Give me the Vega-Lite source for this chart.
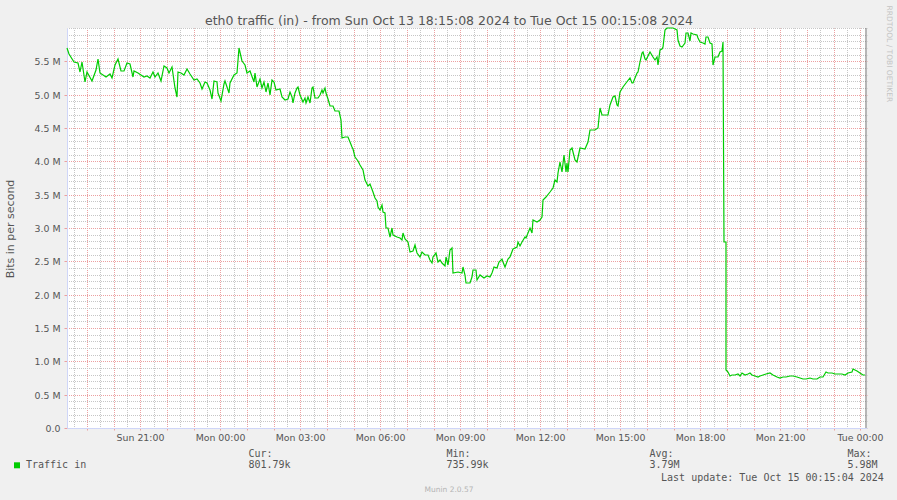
{
 "$schema": "https://vega.github.io/schema/vega-lite/v6.json",
 "width": 800,
 "height": 400,
 "autosize": "none",
 "padding": {"left": 67, "top": 28, "right": 30, "bottom": 72},
 "background": "#f0f0f0",
 "config": {
  "view": {"fill": "#ffffff", "stroke": null},
  "axis": {"labelFont": "DejaVu Sans", "titleFont": "DejaVu Sans", "titleFontWeight": "normal", "labelColor": "#555555", "titleColor": "#555555"}
 },
 "datasets": {
  "now": [{"t": "2024-10-15T00:12:00Z"}],
  "traffic": [
   {"t":"2024-10-13T18:15:00Z","v":5695000},{"t":"2024-10-13T18:20:00Z","v":5610000},{"t":"2024-10-13T18:30:00Z","v":5495000},{"t":"2024-10-13T18:41:00Z","v":5480000},{"t":"2024-10-13T18:45:00Z","v":5345000},{"t":"2024-10-13T18:50:00Z","v":5495000},{"t":"2024-10-13T18:55:00Z","v":5195000},{"t":"2024-10-13T19:01:00Z","v":5335000},{"t":"2024-10-13T19:11:00Z","v":5205000},{"t":"2024-10-13T19:20:00Z","v":5370000},{"t":"2024-10-13T19:26:00Z","v":5530000},{"t":"2024-10-13T19:30:00Z","v":5320000},{"t":"2024-10-13T19:43:00Z","v":5260000},{"t":"2024-10-13T19:51:00Z","v":5305000},{"t":"2024-10-13T19:56:00Z","v":5245000},{"t":"2024-10-13T20:04:00Z","v":5445000},{"t":"2024-10-13T20:11:00Z","v":5530000},{"t":"2024-10-13T20:17:00Z","v":5360000},{"t":"2024-10-13T20:23:00Z","v":5350000},{"t":"2024-10-13T20:30:00Z","v":5480000},{"t":"2024-10-13T20:37:00Z","v":5460000},{"t":"2024-10-13T20:43:00Z","v":5270000},{"t":"2024-10-13T20:47:00Z","v":5360000},{"t":"2024-10-13T20:56:00Z","v":5320000},{"t":"2024-10-13T21:08:00Z","v":5260000},{"t":"2024-10-13T21:15:00Z","v":5285000},{"t":"2024-10-13T21:22:00Z","v":5245000},{"t":"2024-10-13T21:28:00Z","v":5335000},{"t":"2024-10-13T21:34:00Z","v":5270000},{"t":"2024-10-13T21:41:00Z","v":5320000},{"t":"2024-10-13T21:47:00Z","v":5210000},{"t":"2024-10-13T21:53:00Z","v":5430000},{"t":"2024-10-13T22:00:00Z","v":5395000},{"t":"2024-10-13T22:05:00Z","v":5320000},{"t":"2024-10-13T22:11:00Z","v":5420000},{"t":"2024-10-13T22:19:00Z","v":5100000},{"t":"2024-10-13T22:23:00Z","v":4970000},{"t":"2024-10-13T22:26:00Z","v":5335000},{"t":"2024-10-13T22:32:00Z","v":5320000},{"t":"2024-10-13T22:38:00Z","v":5295000},{"t":"2024-10-13T22:45:00Z","v":5380000},{"t":"2024-10-13T22:52:00Z","v":5305000},{"t":"2024-10-13T23:00:00Z","v":5220000},{"t":"2024-10-13T23:08:00Z","v":5230000},{"t":"2024-10-13T23:15:00Z","v":5170000},{"t":"2024-10-13T23:19:00Z","v":5080000},{"t":"2024-10-13T23:25:00Z","v":5195000},{"t":"2024-10-13T23:30:00Z","v":5170000},{"t":"2024-10-13T23:37:00Z","v":5070000},{"t":"2024-10-13T23:41:00Z","v":4930000},{"t":"2024-10-13T23:46:00Z","v":5200000},{"t":"2024-10-13T23:53:00Z","v":5195000},{"t":"2024-10-13T23:56:00Z","v":5020000},
   {"t":"2024-10-14T00:02:00Z","v":4910000},{"t":"2024-10-14T00:08:00Z","v":5160000},{"t":"2024-10-14T00:11:00Z","v":5210000},{"t":"2024-10-14T00:19:00Z","v":5030000},{"t":"2024-10-14T00:22:00Z","v":5180000},{"t":"2024-10-14T00:30:00Z","v":5295000},{"t":"2024-10-14T00:38:00Z","v":5320000},{"t":"2024-10-14T00:43:00Z","v":5695000},{"t":"2024-10-14T00:49:00Z","v":5510000},{"t":"2024-10-14T00:55:00Z","v":5445000},{"t":"2024-10-14T01:00:00Z","v":5320000},{"t":"2024-10-14T01:07:00Z","v":5350000},{"t":"2024-10-14T01:15:00Z","v":5195000},{"t":"2024-10-14T01:19:00Z","v":5320000},{"t":"2024-10-14T01:23:00Z","v":5120000},{"t":"2024-10-14T01:30:00Z","v":5235000},{"t":"2024-10-14T01:34:00Z","v":5095000},{"t":"2024-10-14T01:38:00Z","v":5195000},{"t":"2024-10-14T01:43:00Z","v":5045000},{"t":"2024-10-14T01:47:00Z","v":5170000},{"t":"2024-10-14T01:52:00Z","v":4995000},
   {"t":"2024-10-14T01:57:00Z","v":5220000},{"t":"2024-10-14T02:01:00Z","v":5195000},{"t":"2024-10-14T02:06:00Z","v":5070000},{"t":"2024-10-14T02:14:00Z","v":5080000},{"t":"2024-10-14T02:18:00Z","v":4970000},{"t":"2024-10-14T02:26:00Z","v":4920000},{"t":"2024-10-14T02:33:00Z","v":4930000},{"t":"2024-10-14T02:37:00Z","v":5045000},{"t":"2024-10-14T02:41:00Z","v":4970000},{"t":"2024-10-14T02:44:00Z","v":4870000},{"t":"2024-10-14T02:48:00Z","v":5020000},{"t":"2024-10-14T02:52:00Z","v":5095000},{"t":"2024-10-14T02:55:00Z","v":5120000},{"t":"2024-10-14T02:59:00Z","v":4995000},{"t":"2024-10-14T03:07:00Z","v":4895000},{"t":"2024-10-14T03:11:00Z","v":4945000},{"t":"2024-10-14T03:14:00Z","v":4880000},{"t":"2024-10-14T03:18:00Z","v":4970000},{"t":"2024-10-14T03:22:00Z","v":4870000},{"t":"2024-10-14T03:26:00Z","v":5095000},{"t":"2024-10-14T03:29:00Z","v":5110000},{"t":"2024-10-14T03:33:00Z","v":4945000},{"t":"2024-10-14T03:41:00Z","v":4945000},{"t":"2024-10-14T03:44:00Z","v":4995000},{"t":"2024-10-14T03:48:00Z","v":5070000},{"t":"2024-10-14T03:52:00Z","v":5020000},{"t":"2024-10-14T03:56:00Z","v":5095000},{"t":"2024-10-14T03:59:00Z","v":5020000},{"t":"2024-10-14T04:03:00Z","v":4930000},{"t":"2024-10-14T04:07:00Z","v":4830000},{"t":"2024-10-14T04:14:00Z","v":4830000},{"t":"2024-10-14T04:18:00Z","v":4755000},{"t":"2024-10-14T04:27:00Z","v":4755000},{"t":"2024-10-14T04:32:00Z","v":4620000},{"t":"2024-10-14T04:35:00Z","v":4345000},{"t":"2024-10-14T04:41:00Z","v":4370000},{"t":"2024-10-14T04:48:00Z","v":4370000},{"t":"2024-10-14T04:52:00Z","v":4295000},{"t":"2024-10-14T04:56:00Z","v":4220000},{"t":"2024-10-14T04:59:00Z","v":4180000},{"t":"2024-10-14T05:03:00Z","v":4070000},{"t":"2024-10-14T05:11:00Z","v":4010000},{"t":"2024-10-14T05:14:00Z","v":3945000},{"t":"2024-10-14T05:22:00Z","v":3870000},{"t":"2024-10-14T05:26:00Z","v":3720000},{"t":"2024-10-14T05:33:00Z","v":3630000},{"t":"2024-10-14T05:37:00Z","v":3660000},{"t":"2024-10-14T05:44:00Z","v":3545000},{"t":"2024-10-14T05:48:00Z","v":3445000},{"t":"2024-10-14T05:52:00Z","v":3410000},{"t":"2024-10-14T05:55:00Z","v":3320000},{"t":"2024-10-14T05:59:00Z","v":3270000},{"t":"2024-10-14T06:03:00Z","v":3345000},{"t":"2024-10-14T06:07:00Z","v":3245000},{"t":"2024-10-14T06:11:00Z","v":3220000},{"t":"2024-10-14T06:14:00Z","v":2995000},{"t":"2024-10-14T06:18:00Z","v":2995000},{"t":"2024-10-14T06:22:00Z","v":2870000},{"t":"2024-10-14T06:26:00Z","v":2995000},{"t":"2024-10-14T06:29:00Z","v":2895000},{"t":"2024-10-14T06:37:00Z","v":2870000},{"t":"2024-10-14T06:44:00Z","v":2845000},{"t":"2024-10-14T06:48:00Z","v":2820000},{"t":"2024-10-14T06:52:00Z","v":2920000},{"t":"2024-10-14T06:56:00Z","v":2830000},{"t":"2024-10-14T07:03:00Z","v":2795000},{"t":"2024-10-14T07:07:00Z","v":2645000},{"t":"2024-10-14T07:14:00Z","v":2660000},{"t":"2024-10-14T07:18:00Z","v":2745000},{"t":"2024-10-14T07:22:00Z","v":2620000},{"t":"2024-10-14T07:29:00Z","v":2570000},{"t":"2024-10-14T07:33:00Z","v":2645000},{"t":"2024-10-14T07:41:00Z","v":2595000},{"t":"2024-10-14T07:48:00Z","v":2595000},{"t":"2024-10-14T07:52:00Z","v":2520000},{"t":"2024-10-14T07:56:00Z","v":2470000},{"t":"2024-10-14T07:59:00Z","v":2570000},{"t":"2024-10-14T08:05:00Z","v":2630000},{"t":"2024-10-14T08:11:00Z","v":2495000},{"t":"2024-10-14T08:14:00Z","v":2520000},{"t":"2024-10-14T08:18:00Z","v":2470000},{"t":"2024-10-14T08:26:00Z","v":2430000},{"t":"2024-10-14T08:29:00Z","v":2570000},{"t":"2024-10-14T08:33:00Z","v":2445000},{"t":"2024-10-14T08:37:00Z","v":2670000},{"t":"2024-10-14T08:41:00Z","v":2695000},{"t":"2024-10-14T08:44:00Z","v":2330000},{"t":"2024-10-14T08:55:00Z","v":2345000},{"t":"2024-10-14T09:03:00Z","v":2320000},{"t":"2024-10-14T09:07:00Z","v":2420000},{"t":"2024-10-14T09:11:00Z","v":2295000},{"t":"2024-10-14T09:14:00Z","v":2170000},{"t":"2024-10-14T09:22:00Z","v":2180000},{"t":"2024-10-14T09:26:00Z","v":2270000},{"t":"2024-10-14T09:29:00Z","v":2370000},
   {"t":"2024-10-14T09:35:00Z","v":2370000},{"t":"2024-10-14T09:38:00Z","v":2220000},{"t":"2024-10-14T09:44:00Z","v":2295000},{"t":"2024-10-14T09:53:00Z","v":2245000},{"t":"2024-10-14T10:01:00Z","v":2280000},{"t":"2024-10-14T10:07:00Z","v":2260000},{"t":"2024-10-14T10:11:00Z","v":2320000},{"t":"2024-10-14T10:16:00Z","v":2410000},{"t":"2024-10-14T10:22:00Z","v":2395000},{"t":"2024-10-14T10:28:00Z","v":2485000},{"t":"2024-10-14T10:33:00Z","v":2530000},{"t":"2024-10-14T10:37:00Z","v":2485000},{"t":"2024-10-14T10:41:00Z","v":2420000},{"t":"2024-10-14T10:48:00Z","v":2530000},{"t":"2024-10-14T10:53:00Z","v":2560000},{"t":"2024-10-14T10:59:00Z","v":2680000},{"t":"2024-10-14T11:07:00Z","v":2720000},{"t":"2024-10-14T11:10:00Z","v":2795000},{"t":"2024-10-14T11:14:00Z","v":2730000},{"t":"2024-10-14T11:18:00Z","v":2795000},{"t":"2024-10-14T11:26:00Z","v":2870000},{"t":"2024-10-14T11:29:00Z","v":2845000},{"t":"2024-10-14T11:37:00Z","v":2995000},{"t":"2024-10-14T11:41:00Z","v":2920000},{"t":"2024-10-14T11:44:00Z","v":3120000},{"t":"2024-10-14T11:52:00Z","v":3095000},{"t":"2024-10-14T11:59:00Z","v":3120000},{"t":"2024-10-14T12:04:00Z","v":3160000},{"t":"2024-10-14T12:07:00Z","v":3420000},{"t":"2024-10-14T12:14:00Z","v":3470000},{"t":"2024-10-14T12:22:00Z","v":3545000},{"t":"2024-10-14T12:29:00Z","v":3595000},{"t":"2024-10-14T12:33:00Z","v":3720000},{"t":"2024-10-14T12:37:00Z","v":3695000},{"t":"2024-10-14T12:40:00Z","v":3820000},{"t":"2024-10-14T12:44:00Z","v":3995000},{"t":"2024-10-14T12:48:00Z","v":3845000},{"t":"2024-10-14T12:54:00Z","v":4095000},{"t":"2024-10-14T12:58:00Z","v":3845000},{"t":"2024-10-14T13:01:00Z","v":3970000},{"t":"2024-10-14T13:03:00Z","v":3845000},{"t":"2024-10-14T13:07:00Z","v":4170000},{"t":"2024-10-14T13:11:00Z","v":4195000},{"t":"2024-10-14T13:18:00Z","v":4020000},{"t":"2024-10-14T13:22:00Z","v":3995000},{"t":"2024-10-14T13:29:00Z","v":4195000},{"t":"2024-10-14T13:41:00Z","v":4180000},{"t":"2024-10-14T13:48:00Z","v":4295000},{"t":"2024-10-14T13:52:00Z","v":4470000},{"t":"2024-10-14T14:03:00Z","v":4470000},{"t":"2024-10-14T14:10:00Z","v":4495000},{"t":"2024-10-14T14:14:00Z","v":4795000},{"t":"2024-10-14T14:18:00Z","v":4695000},{"t":"2024-10-14T14:33:00Z","v":4695000},{"t":"2024-10-14T14:37:00Z","v":4845000},{"t":"2024-10-14T14:44:00Z","v":4970000},{"t":"2024-10-14T14:48:00Z","v":4980000},{"t":"2024-10-14T14:52:00Z","v":4845000},{"t":"2024-10-14T14:55:00Z","v":4830000},{"t":"2024-10-14T14:59:00Z","v":5045000},{"t":"2024-10-14T15:07:00Z","v":5120000},{"t":"2024-10-14T15:14:00Z","v":5170000},{"t":"2024-10-14T15:22:00Z","v":5245000},{"t":"2024-10-14T15:26:00Z","v":5170000},{"t":"2024-10-14T15:29:00Z","v":5180000},{"t":"2024-10-14T15:37:00Z","v":5320000},{"t":"2024-10-14T15:40:00Z","v":5345000},{"t":"2024-10-14T15:44:00Z","v":5495000},{"t":"2024-10-14T15:48:00Z","v":5620000},{"t":"2024-10-14T15:52:00Z","v":5645000},{"t":"2024-10-14T15:56:00Z","v":5530000},{"t":"2024-10-14T15:59:00Z","v":5520000},{"t":"2024-10-14T16:07:00Z","v":5645000},{"t":"2024-10-14T16:14:00Z","v":5570000},{"t":"2024-10-14T16:18:00Z","v":5520000},{"t":"2024-10-14T16:22:00Z","v":5570000},{"t":"2024-10-14T16:25:00Z","v":5445000},{"t":"2024-10-14T16:29:00Z","v":5670000},{"t":"2024-10-14T16:33:00Z","v":5680000},{"t":"2024-10-14T16:37:00Z","v":5720000},{"t":"2024-10-14T16:41:00Z","v":5970000},{"t":"2024-10-14T16:46:00Z","v":5995000},
   {"t":"2024-10-14T16:52:00Z","v":5995000},{"t":"2024-10-14T16:59:00Z","v":5995000},{"t":"2024-10-14T17:03:00Z","v":5980000},{"t":"2024-10-14T17:07:00Z","v":5970000},{"t":"2024-10-14T17:10:00Z","v":5820000},{"t":"2024-10-14T17:14:00Z","v":5730000},{"t":"2024-10-14T17:18:00Z","v":5710000},{"t":"2024-10-14T17:26:00Z","v":5770000},{"t":"2024-10-14T17:29:00Z","v":5920000},{"t":"2024-10-14T17:33:00Z","v":5920000},{"t":"2024-10-14T17:37:00Z","v":5810000},{"t":"2024-10-14T17:39:00Z","v":5920000},{"t":"2024-10-14T17:44:00Z","v":5910000},{"t":"2024-10-14T17:52:00Z","v":5895000},{"t":"2024-10-14T17:55:00Z","v":5845000},{"t":"2024-10-14T17:59:00Z","v":5795000},{"t":"2024-10-14T18:07:00Z","v":5780000},{"t":"2024-10-14T18:11:00Z","v":5760000},{"t":"2024-10-14T18:14:00Z","v":5870000},{"t":"2024-10-14T18:18:00Z","v":5870000},{"t":"2024-10-14T18:22:00Z","v":5770000},{"t":"2024-10-14T18:26:00Z","v":5760000},{"t":"2024-10-14T18:29:00Z","v":5445000},{"t":"2024-10-14T18:33:00Z","v":5560000},{"t":"2024-10-14T18:40:00Z","v":5560000},{"t":"2024-10-14T18:44:00Z","v":5645000},{"t":"2024-10-14T18:48:00Z","v":5660000},{"t":"2024-10-14T18:51:00Z","v":5795000},{"t":"2024-10-14T18:54:00Z","v":2795000},{"t":"2024-10-14T18:57:00Z","v":2795000},{"t":"2024-10-14T18:59:00Z","v":870000},{"t":"2024-10-14T19:02:00Z","v":845000},{"t":"2024-10-14T19:06:00Z","v":780000},{"t":"2024-10-14T19:11:00Z","v":795000},{"t":"2024-10-14T19:18:00Z","v":795000},{"t":"2024-10-14T19:25:00Z","v":810000},{"t":"2024-10-14T19:29:00Z","v":780000},{"t":"2024-10-14T19:35:00Z","v":820000},{"t":"2024-10-14T19:40:00Z","v":795000},{"t":"2024-10-14T19:48:00Z","v":810000},{"t":"2024-10-14T19:52:00Z","v":830000},{"t":"2024-10-14T19:56:00Z","v":795000},{"t":"2024-10-14T20:03:00Z","v":780000},{"t":"2024-10-14T20:10:00Z","v":760000},{"t":"2024-10-14T20:14:00Z","v":780000},{"t":"2024-10-14T20:22:00Z","v":795000},{"t":"2024-10-14T20:29:00Z","v":810000},{"t":"2024-10-14T20:37:00Z","v":820000},{"t":"2024-10-14T20:44:00Z","v":795000},{"t":"2024-10-14T20:52:00Z","v":760000},{"t":"2024-10-14T20:59:00Z","v":745000},{"t":"2024-10-14T21:07:00Z","v":760000},{"t":"2024-10-14T21:14:00Z","v":770000},{"t":"2024-10-14T21:22:00Z","v":780000},{"t":"2024-10-14T21:29:00Z","v":780000},{"t":"2024-10-14T21:37:00Z","v":770000},{"t":"2024-10-14T21:44:00Z","v":745000},{"t":"2024-10-14T21:52:00Z","v":740000},{"t":"2024-10-14T21:59:00Z","v":730000},{"t":"2024-10-14T22:07:00Z","v":745000},{"t":"2024-10-14T22:14:00Z","v":740000},{"t":"2024-10-14T22:22:00Z","v":736000},{"t":"2024-10-14T22:29:00Z","v":760000},{"t":"2024-10-14T22:37:00Z","v":770000},{"t":"2024-10-14T22:44:00Z","v":845000},{"t":"2024-10-14T22:48:00Z","v":830000},{"t":"2024-10-14T22:56:00Z","v":820000},{"t":"2024-10-14T23:03:00Z","v":810000},{"t":"2024-10-14T23:11:00Z","v":810000},{"t":"2024-10-14T23:18:00Z","v":810000},{"t":"2024-10-14T23:26:00Z","v":795000},{"t":"2024-10-14T23:33:00Z","v":830000},{"t":"2024-10-14T23:41:00Z","v":845000},{"t":"2024-10-14T23:44:00Z","v":880000},{"t":"2024-10-14T23:52:00Z","v":860000},{"t":"2024-10-14T23:59:00Z","v":830000},{"t":"2024-10-15T00:07:00Z","v":795000},{"t":"2024-10-15T00:11:00Z","v":801790}
  ]
 },
 "data": {"name": "traffic"},
 "layer": [
  {
   "mark": {"type": "line", "opacity": 0},
   "encoding": {
    "x": {"field": "t", "type": "temporal",
     "scale": {"type": "utc", "nice": false, "round": true, "domain": ["2024-10-13T18:15:08Z", "2024-10-15T00:15:08Z"]},
     "axis": {"orient": "bottom", "grid": true, "gridColor": "#c6c6c6", "gridDash": [1, 1], "gridDashOffset": 0.5, "gridWidth": 1, "tickCount": 60, "labels": false, "ticks": false, "domain": false,
      "title": ["\u00a0Cur:", "801.79k"], "titleFont": "DejaVu Sans Mono", "titleFontSize": 10, "titleColor": "#555555", "titleX": 181, "titleY": 28.5, "titleAlign": "left", "titleBaseline": "alphabetic", "titleLineHeight": 11.2}},
    "y": {"field": "v", "type": "quantitative",
     "scale": {"domain": [0, 6000000], "nice": false, "zero": true, "round": true},
     "axis": {"orient": "left", "grid": true, "gridColor": "#c6c6c6", "gridDash": [1, 1], "gridDashOffset": 0.5, "gridWidth": 1,
      "values": [100000, 200000, 300000, 400000, 600000, 700000, 800000, 900000, 1100000, 1200000, 1300000, 1400000, 1600000, 1700000, 1800000, 1900000, 2100000, 2200000, 2300000, 2400000, 2600000, 2700000, 2800000, 2900000, 3100000, 3200000, 3300000, 3400000, 3600000, 3700000, 3800000, 3900000, 4100000, 4200000, 4300000, 4400000, 4600000, 4700000, 4800000, 4900000, 5100000, 5200000, 5300000, 5400000, 5600000, 5700000, 5800000, 5900000, 6000000],
      "labels": false, "ticks": false, "domain": false, "title": null}}
   }
  },
  {
   "mark": {"type": "line", "opacity": 0},
   "encoding": {
    "x": {"field": "t", "type": "temporal",
     "scale": {"type": "utc", "nice": false, "round": true, "domain": ["2024-10-13T18:15:08Z", "2024-10-15T00:15:08Z"]},
     "axis": {"orient": "bottom", "grid": true, "gridColor": "#eca0a0", "gridDash": [1, 1], "gridDashOffset": 0.5, "gridWidth": 1, "tickCount": 30, "ticks": true, "tickColor": "#eca0a0", "tickSize": 2, "labels": false, "domain": false,
      "title": ["\u00a0Min:", "735.99k"], "titleFont": "DejaVu Sans Mono", "titleFontSize": 10, "titleColor": "#555555", "titleX": 379, "titleY": 28.5, "titleAlign": "left", "titleBaseline": "alphabetic", "titleLineHeight": 11.2}},
    "y": {"field": "v", "type": "quantitative",
     "scale": {"domain": [0, 6000000], "nice": false, "zero": true, "round": true},
     "axis": null}
   }
  },
  {
   "mark": {"type": "line", "strokeWidth": 1.2, "interpolate": "linear"},
   "encoding": {
    "x": {"field": "t", "type": "temporal",
     "scale": {"type": "utc", "nice": false, "round": true, "domain": ["2024-10-13T18:15:08Z", "2024-10-15T00:15:08Z"]},
     "axis": {"orient": "bottom", "grid": false, "labels": false, "ticks": false, "domain": false,
      "title": ["Avg:", "\u00a03.79M"], "titleFont": "DejaVu Sans Mono", "titleFontSize": 10, "titleColor": "#555555", "titleX": 582, "titleY": 28.5, "titleAlign": "left", "titleBaseline": "alphabetic", "titleLineHeight": 11.2}},
    "y": {"field": "v", "type": "quantitative",
     "scale": {"domain": [0, 6000000], "nice": false, "zero": true, "round": true},
     "axis": {"orient": "right", "grid": false, "labels": false, "ticks": false, "domain": false,
      "title": "RRDTOOL / TOBI OETIKER", "titleFont": "DejaVu Sans", "titleFontSize": 7.5, "titleColor": "#c4c4c4", "titleAngle": 90, "titleX": 21.5, "titleY": -23, "titleAlign": "left", "titleBaseline": "middle"}},
    "color": {"datum": "Traffic in", "type": "nominal", "scale": {"range": ["#00cc00"]},
     "legend": {"orient": "none", "legendX": -55, "legendY": 432.3, "title": null, "padding": 0,
      "symbolType": "square", "symbolSize": 36, "symbolFillColor": "#00cc00", "symbolStrokeColor": "#00cc00", "symbolStrokeWidth": 0,
      "labelFont": "DejaVu Sans Mono", "labelFontSize": 10, "labelColor": "#555555", "labelOffset": 4}}
   }
  },
  {
   "data": {"name": "now"},
   "mark": {"type": "rule", "color": "#6e6e6e", "strokeWidth": 1},
   "encoding": {
    "x": {"field": "t", "type": "temporal",
     "scale": {"type": "utc", "nice": false, "round": true, "domain": ["2024-10-13T18:15:08Z", "2024-10-15T00:15:08Z"]},
     "axis": {"orient": "bottom", "grid": false, "labels": false, "ticks": false, "domain": true, "domainColor": "#cfd6f8", "domainWidth": 1, "zindex": 1,
      "title": ["Max:", "\u00a05.98M"], "titleFont": "DejaVu Sans Mono", "titleFontSize": 10, "titleColor": "#555555", "titleX": 780, "titleY": 28.5, "titleAlign": "left", "titleBaseline": "alphabetic", "titleLineHeight": 11.2}}
   }
  },
  {
   "mark": {"type": "line", "opacity": 0},
   "encoding": {
    "x": {"field": "t", "type": "temporal",
     "scale": {"type": "utc", "nice": false, "round": true, "domain": ["2024-10-13T18:15:08Z", "2024-10-15T00:15:08Z"]},
     "axis": {"orient": "bottom", "grid": false, "ticks": false, "domain": false, "tickCount": 10, "format": "%a %H:%M", "labelFontSize": 9.4, "labelPadding": 5, "labelOverlap": false, "labelFlush": false, "labelColor": "#555555",
      "title": "Last update: Tue Oct 15 00:15:04 2024", "titleFont": "DejaVu Sans Mono", "titleFontSize": 10, "titleColor": "#555555", "titleX": 816.3, "titleY": 52.5, "titleAlign": "right", "titleBaseline": "alphabetic"}},
    "y": {"field": "v", "type": "quantitative",
     "scale": {"domain": [0, 6000000], "nice": false, "zero": true, "round": true},
     "axis": {"orient": "left", "grid": true, "gridColor": "#eca0a0", "gridDash": [1, 1], "gridDashOffset": 0.5, "gridWidth": 1,
      "values": [0, 500000, 1000000, 1500000, 2000000, 2500000, 3000000, 3500000, 4000000, 4500000, 5000000, 5500000],
      "ticks": true, "tickColor": "#eca0a0", "tickSize": 3, "labelPadding": 4, "labelFontSize": 9.4, "labelColor": "#555555",
      "labelExpr": "datum.value == 0 ? '0.0' : format(datum.value / 1000000, '.1f') + ' M'",
      "domain": true, "domainColor": "#cfd6f8", "domainWidth": 1,
      "title": "Bits in per second", "titleFontSize": 11, "titleColor": "#555555", "titleAngle": 270, "titleX": -57, "titleY": 200.5, "titleAlign": "center", "titleBaseline": "middle"}}
   }
  },
  {
   "mark": {"type": "line", "opacity": 0},
   "encoding": {
    "x": {"field": "t", "type": "temporal",
     "scale": {"type": "utc", "nice": false, "round": true, "domain": ["2024-10-13T18:15:08Z", "2024-10-15T00:15:08Z"]},
     "axis": {"orient": "top", "grid": false, "labels": false, "ticks": false, "domain": false,
      "title": "eth0 traffic (in) - from Sun Oct 13 18:15:08 2024 to Tue Oct 15 00:15:08 2024", "titleFont": "DejaVu Sans", "titleFontSize": 12.5, "titleColor": "#555555", "titleX": 381.5, "titleY": -3.5, "titleAlign": "center", "titleBaseline": "alphabetic"}},
    "y": {"field": "v", "type": "quantitative",
     "scale": {"domain": [0, 6000000], "nice": false, "zero": true, "round": true},
     "axis": {"orient": "left", "grid": false, "labels": false, "ticks": false, "domain": false,
      "title": "Munin 2.0.57", "titleFont": "DejaVu Sans", "titleFontSize": 7.5, "titleColor": "#b4b4b4", "titleAngle": 0, "titleX": 381.5, "titleY": 461, "titleAlign": "center", "titleBaseline": "middle"}}
   }
  }
 ],
 "resolve": {"axis": {"x": "independent", "y": "independent"}}
}
